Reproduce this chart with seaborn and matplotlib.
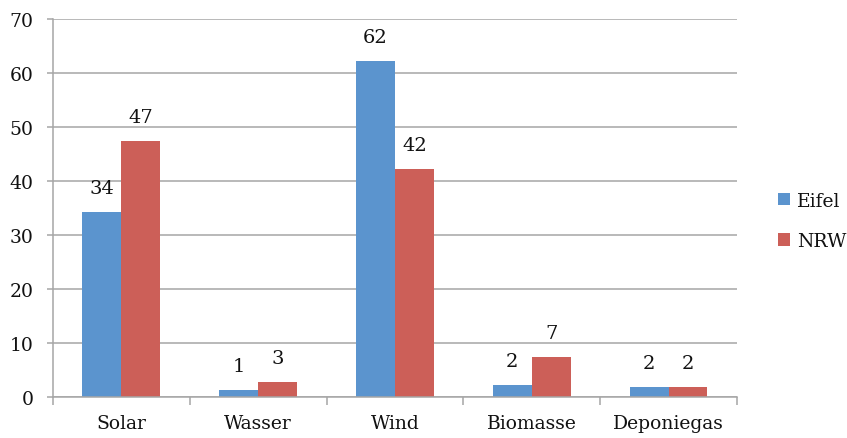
import pandas as pd
import seaborn as sns
import matplotlib.pyplot as plt

categories = ["Solar", "Wasser", "Wind", "Biomasse", "Deponiegas"]
eifel = [34.3, 1.3, 62.2, 2.2, 1.8]
nrw = [47.4, 2.8, 42.2, 7.4, 1.8]
series = ["Eifel", "NRW"]
colors = ["#5B94CE", "#CC5F58"]

sns.set_theme(style="white")
plt.rcParams["font.family"] = ["DejaVu Serif"]

df = pd.DataFrame({
    "Kategorie": categories * 2,
    "Wert": eifel + nrw,
    "Serie": [series[0]] * len(categories) + [series[1]] * len(categories),
})

fig = plt.figure(figsize=(8.47, 4.39), dpi=100)
ax = fig.add_axes([0.0626, 0.0934, 0.8074, 0.8606])

sns.barplot(data=df, x="Kategorie", y="Wert", hue="Serie", order=categories,
            hue_order=series, palette=colors, width=0.57, gap=0,
            saturation=1, ax=ax, errorbar=None, legend=True, linewidth=0)

for cont in ax.containers:
    ax.bar_label(cont, fmt="%.0f", padding=11, fontsize=14, color="#111111")

ax.set_ylim(0, 70)
ax.set_xlim(-0.5, 4.5)
ax.set_yticks(range(0, 71, 10))
ax.yaxis.grid(True, color="#A6A6A6", linewidth=1.1)
ax.set_axisbelow(True)
ax.set_xlabel("")
ax.set_ylabel("")

for side in ["top", "right"]:
    ax.spines[side].set_visible(False)
for side in ["left", "bottom"]:
    ax.spines[side].set_color("#A6A6A6")
    ax.spines[side].set_linewidth(1.1)

ax.tick_params(axis="y", which="major", length=4, width=1.1, color="#A6A6A6",
               labelsize=13.5, pad=10, left=True, labelcolor="#111111")
ax.tick_params(axis="x", which="major", length=0, labelsize=13.5, pad=12,
               labelcolor="#111111")
ax.set_xticks([i - 0.5 for i in range(len(categories) + 1)], minor=True)
ax.tick_params(axis="x", which="minor", length=6, width=1.1, color="#A6A6A6",
               bottom=True)

leg = ax.legend(loc="center left", bbox_to_anchor=(778 / 847, 1 - 222 / 439),
                bbox_transform=fig.transFigure, frameon=False,
                borderpad=0, borderaxespad=0,
                fontsize=13.5, handlelength=0.65, handleheight=0.65,
                handletextpad=0.37, labelspacing=1.2)
for t in leg.get_texts():
    t.set_color("#111111")

fig.savefig("out.png", dpi=100)
